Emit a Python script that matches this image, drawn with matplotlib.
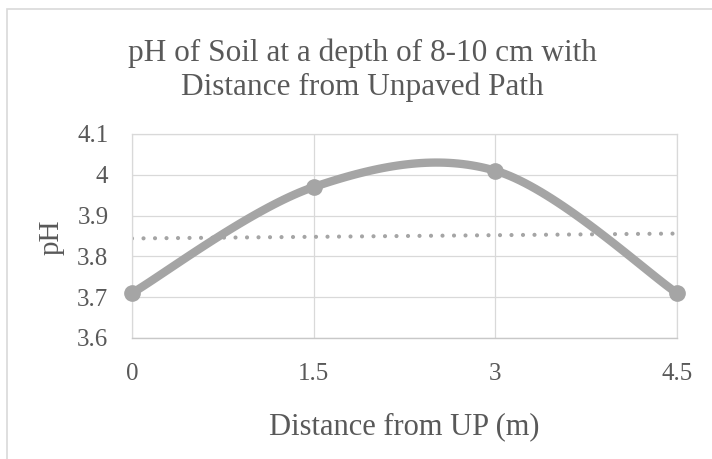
import numpy as np
import matplotlib
matplotlib.use("Agg")
import matplotlib.pyplot as plt
from matplotlib.patches import Rectangle

# data
distance = [0, 1.5, 3, 4.5]
ph = [3.71, 3.97, 4.01, 3.71]
x_ticks = [0, 1.5, 3, 4.5]
x_tick_labels = ["0", "1.5", "3", "4.5"]
y_ticks = [3.6, 3.7, 3.8, 3.9, 4.0, 4.1]
y_tick_labels = ["3.6", "3.7", "3.8", "3.9", "4", "4.1"]

grey = "#a5a5a5"
text_col = "#595959"
plt.rcParams['font.family'] = ['Liberation Serif', 'DejaVu Serif']


# Excel style smoothed line (cubic bezier, catmull-rom control points)
def smooth(xs, ys, n=40):
    p = np.column_stack([xs, ys]).astype(float)
    p = np.vstack([p[0], p, p[-1]])
    out = []
    for i in range(1, len(p) - 2):
        p0, p1 = p[i], p[i + 1]
        c1 = p0 + (p[i + 1] - p[i - 1]) / 6
        c2 = p1 - (p[i + 2] - p[i]) / 6
        t = np.linspace(0, 1, n)[:, None]
        seg = (1 - t) ** 3 * p0 + 3 * (1 - t) ** 2 * t * c1 + 3 * (1 - t) * t ** 2 * c2 + t ** 3 * p1
        out.append(seg if i == 1 else seg[1:])
    out = np.vstack(out)
    return out[:, 0], out[:, 1]


fig = plt.figure(figsize=(7.12, 4.59), dpi=100)
fig.patches.append(Rectangle((7 / 712, -0.1), 1.2, (459 - 8.5) / 459 + 0.1,
                             transform=fig.transFigure, fill=False,
                             edgecolor="#d9d9d9", lw=1.2))

ax = fig.add_axes([132 / 712, 121 / 459, 545 / 712, 204 / 459])

sx, sy = smooth(distance, ph)
ax.plot(sx, sy, color=grey, lw=6, solid_capstyle='round', clip_on=False, zorder=3)
ax.plot(distance, ph, 'o', color=grey, ms=11, clip_on=False, zorder=4)

# linear trendline
k, b = np.polyfit(distance, ph, 1)
tx = np.array([distance[0], distance[-1]])
ax.plot(tx, k * tx + b, color=grey, lw=3, linestyle=(0, (0.01, 2.75)),
        dash_capstyle='round', zorder=2)

ax.set_xlim(0, 4.5)
ax.set_ylim(3.6, 4.1)
ax.set_xticks(x_ticks)
ax.set_xticklabels(x_tick_labels)
ax.set_yticks(y_ticks)
ax.set_yticklabels(y_tick_labels)
ax.grid(True, color="#d9d9d9", lw=0.9)
ax.set_axisbelow(True)
for s in ['top', 'right', 'left']:
    ax.spines[s].set_color("#d9d9d9")
    ax.spines[s].set_linewidth(0.9)
ax.spines['bottom'].set_color("#c8c8c8")
ax.spines['bottom'].set_linewidth(1.0)
ax.tick_params(length=0, labelsize=18, colors=text_col, pad=18)
ax.tick_params(axis='y', pad=17)

fig.text(52 / 712, 1 - 237 / 459, "pH", rotation=90, ha='center', va='center',
         fontsize=21, color=text_col)
fig.text(404 / 712, 1 - 434 / 459, "Distance from UP (m)", ha='center',
         va='baseline', fontsize=22, color=text_col)
fig.text(362 / 712, 1 - 95 / 459,
         "pH of Soil at a depth of 8-10 cm with\nDistance from Unpaved Path",
         ha='center', va='baseline', fontsize=22.5, color=text_col, linespacing=1.22)

fig.savefig("out.png", dpi=100)
